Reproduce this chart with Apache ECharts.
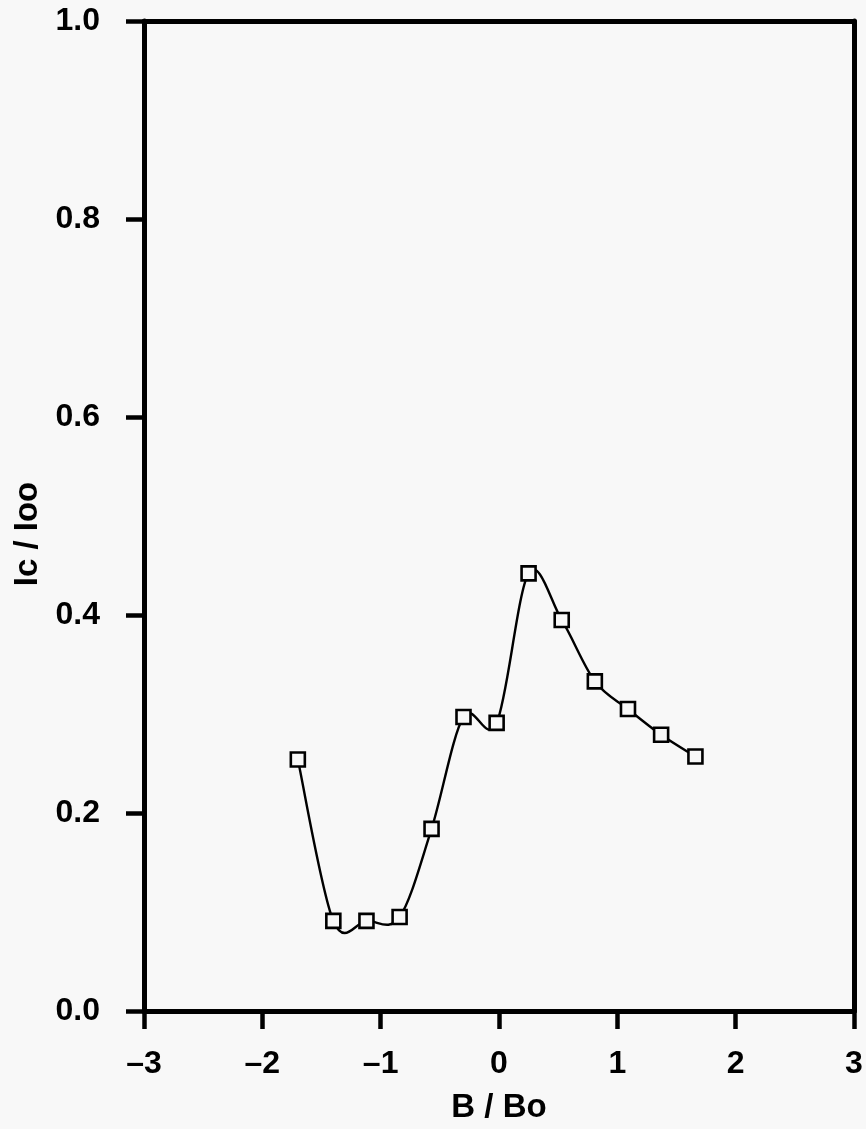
<!DOCTYPE html>
<html>
<head>
<meta charset="utf-8">
<script src="https://cdn.jsdelivr.net/npm/echarts@6/dist/echarts.min.js"></script>
<style>
  html, body { margin: 0; padding: 0; background: #f8f8f8; }
  #chart { width: 866px; height: 1129px; }
</style>
</head>
<body>
<div id="chart"></div>
<script>
// Normalised field B/Bo and critical current Ic/Ioo
const fieldRatio = [-1.70, -1.40, -1.12, -0.84, -0.57, -0.30, -0.02, 0.25, 0.53, 0.81, 1.09, 1.37, 1.66];
const currentRatio = [0.254, 0.091, 0.091, 0.095, 0.184, 0.297, 0.291, 0.442, 0.395, 0.333, 0.305, 0.279, 0.257];
const xTicks = [-3, -2, -1, 0, 1, 2, 3];
const yTicks = [0.0, 0.2, 0.4, 0.6, 0.8, 1.0];

const ink = '#000';
const paper = '#f8f8f8';
const font = '"Liberation Sans", Arial, Helvetica, sans-serif';

const points = fieldRatio.map((x, i) => [x, currentRatio[i]]);

// Cardinal (Catmull-Rom) spline through the measured points, in pixel space
function splinePath(api) {
  const p = points.map(d => api.coord(d));
  const n = p.length;
  let d = 'M' + p[0][0] + ',' + p[0][1];
  for (let i = 0; i < n - 1; i++) {
    const p0 = p[Math.max(i - 1, 0)];
    const p1 = p[i];
    const p2 = p[i + 1];
    const p3 = p[Math.min(i + 2, n - 1)];
    const c1 = [p1[0] + (p2[0] - p0[0]) / 6, p1[1] + (p2[1] - p0[1]) / 6];
    const c2 = [p2[0] - (p3[0] - p1[0]) / 6, p2[1] - (p3[1] - p1[1]) / 6];
    d += 'C' + c1[0] + ',' + c1[1] + ' ' + c2[0] + ',' + c2[1] + ' ' + p2[0] + ',' + p2[1];
  }
  return d;
}

const chart = echarts.init(document.getElementById('chart'), null, { renderer: 'canvas' });
chart.setOption({
  backgroundColor: paper,
  animation: false,
  grid: { left: 144, right: 12, top: 21, bottom: 118, containLabel: false, outerBoundsMode: 'none' },
  xAxis: [
    {
      type: 'value',
      min: xTicks[0], max: xTicks[xTicks.length - 1], interval: 1,
      name: 'B / Bo', nameLocation: 'middle', nameGap: 80,
      nameTextStyle: { color: ink, fontSize: 33, fontWeight: 'bold', fontFamily: font },
      axisLine: { show: true, onZero: false, lineStyle: { color: ink, width: 5 } },
      axisTick: { show: true, inside: false, length: 18, lineStyle: { color: ink, width: 4.5 } },
      axisLabel: {
        color: ink, fontSize: 32, fontWeight: 'bold', fontFamily: font, margin: 37,
        formatter: v => (v < 0 ? '\u2013' + Math.abs(v) : String(v))
      },
      splitLine: { show: false }
    },
    {
      type: 'value', position: 'top',
      min: xTicks[0], max: xTicks[xTicks.length - 1],
      axisLine: { show: true, onZero: false, lineStyle: { color: ink, width: 5 } },
      axisTick: { show: false }, axisLabel: { show: false }, splitLine: { show: false }
    }
  ],
  yAxis: [
    {
      type: 'value',
      min: yTicks[0], max: yTicks[yTicks.length - 1], interval: 0.2,
      name: 'Ic / Ioo', nameLocation: 'middle', nameGap: 96, nameRotate: 90,
      nameTextStyle: {
        color: ink, fontSize: 33, fontWeight: 'bold', fontFamily: font,
        padding: [0, 36, 0, 0]
      },
      axisLine: { show: true, onZero: false, lineStyle: { color: ink, width: 5 } },
      axisTick: { show: true, inside: false, length: 18, lineStyle: { color: ink, width: 4.5 } },
      axisLabel: {
        color: ink, fontSize: 32, fontWeight: 'bold', fontFamily: font, margin: 44,
        formatter: v => v.toFixed(1)
      },
      splitLine: { show: false }
    },
    {
      type: 'value', position: 'right',
      min: yTicks[0], max: yTicks[yTicks.length - 1],
      axisLine: { show: true, onZero: false, lineStyle: { color: ink, width: 5 } },
      axisTick: { show: false }, axisLabel: { show: false }, splitLine: { show: false }
    }
  ],
  series: [
    {
      // fitted curve through the measurements
      type: 'custom',
      data: [0],
      z: 2,
      silent: true,
      renderItem: (params, api) => ({
        type: 'path',
        shape: { pathData: splinePath(api) },
        style: { fill: null, stroke: ink, lineWidth: 2.4 }
      })
    },
    {
      // measured points
      type: 'scatter',
      data: points,
      symbol: 'rect',
      symbolSize: 14,
      itemStyle: { color: paper, borderColor: ink, borderWidth: 2.6, opacity: 1 },
      z: 3
    }
  ]
});
</script>
</body>
</html>
